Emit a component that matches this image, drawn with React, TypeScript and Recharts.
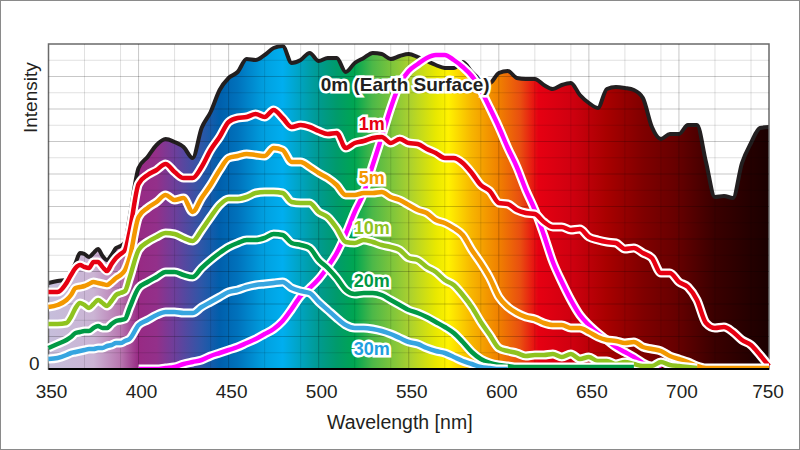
import { Area, CartesianGrid, ComposedChart, Line, ReferenceArea, ReferenceDot, ReferenceLine, XAxis, YAxis } from "recharts";

// sampled every 5 nm, 2.5 nm where the UV end wiggles
const wavelengths = [
  350, 355, 360, 362.5, 365, 367.5, 370, 372.5, 375, 377.5, 380, 382.5, 385, 387.5, 390, 392.5, 395,
  400, 405, 410, 415, 420, 425, 430, 435, 440, 445,
  450, 455, 460, 465, 470, 475, 480, 485, 490, 495, 500, 505, 510, 515, 520, 525, 530, 535, 540, 545,
  550, 555, 560, 565, 570, 575, 580, 585, 590, 595, 600, 605, 610, 615, 620, 625, 630, 635, 640, 645,
  650, 655, 660, 665, 670, 675, 680, 685, 690, 695, 700, 705, 710, 715, 720, 725, 730, 735, 740, 745, 750,
];
const N = null;
const surface = [
  86, 88, 89, 97, 106, 116, 115, 112, 116, 120, 113, 109, 114, 121, 123, 127, 151,
  201, 212, 224, 230, 227, 222, 211, 241, 257, 279,
  291, 297, 310, 309, 314, 321, 323, 306, 309, 316,
  308, 311, 311, 297, 306, 311, 316, 315, 310, 313,
  315, 312, 308, 304, 301, 301, 307, 297, 289, 286,
  296, 298, 291, 290, 290, 284, 280, 284, 286, 274,
  266, 261, 280, 282, 281, 279, 271, 242, 230, 235,
  235, 244, 244, 207, 172, 173, 171, 206, 226, 241, 242,
];
const depth1 = [
  77, 77, 86, 94, 101, 104, 102, 101, 107, 107, 102, 98, 105, 111, 115, 119, 137,
  185, 194, 199, 205, 197, 191, 191, 202, 219, 232,
  247, 251, 252, 255, 252, 259, 251, 242, 244, 242,
  238, 235, 236, 221, 226, 228, 231, 232, 226, 230,
  226, 225, 220, 216, 211, 211, 206, 196, 184, 178,
  166, 165, 159, 156, 155, 147, 142, 142, 139, 140,
  132, 129, 127, 126, 120, 121, 116, 111, 96, 96,
  87, 82, 69, 46, 41, 42, 37, 29, 24, 14, 3,
];
const depth5 = [
  62, 64, 69, 74, 81, 82, 83, 85, 87, 86, 85, 84, 87, 91, 94, 99, 111,
  152, 161, 167, 174, 169, 171, 157, 171, 184, 199,
  211, 213, 215, 214, 213, 221, 219, 207, 207, 202,
  196, 191, 184, 174, 174, 176, 176, 177, 172, 169,
  164, 159, 156, 149, 146, 141, 134, 119, 106, 91,
  72, 62, 56, 52, 50, 46, 44, 44, 41, 41,
  37, 32, 29, 28, 26, 27, 22, 20, 18, 13,
  10, 7, 3, 1, 1, 1, 1, 1, 1, 1, 1,
];
const depth10 = [
  45, 45, 46, 52, 61, 66, 64, 61, 65, 69, 66, 63, 68, 74, 76, 78, 91,
  119, 127, 132, 136, 135, 131, 128, 139, 152, 164,
  170, 170, 172, 176, 177, 177, 176, 167, 166, 166,
  157, 152, 141, 127, 126, 129, 127, 124, 122, 119,
  111, 109, 102, 97, 89, 84, 74, 62, 47, 34,
  21, 18, 16, 13, 14, 14, 15, 12, 15, 10,
  12, 8, 8, 5, 7, 5, 3, 3, 7, 4,
  3, 2, 1, N, N, N, N, N, N, N, N,
];
const depth20 = [
  21, 25, 29, 32, 36, 37, 38, 38, 41, 43, 41, 41, 45, 48, 49, 50, 61,
  81, 87, 92, 97, 97, 94, 92, 101, 109, 116,
  122, 126, 129, 129, 131, 135, 134, 126, 124, 121,
  109, 101, 91, 79, 75, 76, 76, 74, 69, 64,
  59, 56, 52, 47, 42, 36, 27, 17, 10, 6,
  4, 3, 2, 2, 2, 2, 2, 2, 2, 2,
  2, 2, 2, 2, 2, 2, N, N, N, N,
  N, N, N, N, N, N, N, N, N, N, N,
];
const depth30 = [
  10, 11, 14, 16, 17, 18, 19, 20, 20, 21, 21, 23, 24, 26, 26, 28, 30,
  44, 49, 54, 57, 57, 56, 56, 62, 67, 72,
  77, 79, 82, 84, 85, 86, 87, 81, 78, 76,
  67, 59, 51, 44, 41, 41, 40, 38, 35, 31,
  27, 25, 21, 18, 16, 12, 8, 5, 2, 1,
  0, 0, N, N, N, N, N, N, N, N,
  N, N, N, N, N, N, N, N, N, N,
  N, N, N, N, N, N, N, N, N, N, N,
];
const sensitivity = [
  N, N, N, N, N, N, N, N, N, N, N, N, N, N, N, N, N,
  0, 0, 0, 1, 2, 5, 7, 9, 13, 16,
  19, 22, 26, 30, 35, 40, 48, 60, 73, 81,
  90, 102, 116, 135, 157, 176, 204, 232, 261, 285,
  298, 305, 311, 314, 314, 309, 302, 293, 279, 261,
  242, 221, 202, 179, 159, 134, 107, 87, 69, 54,
  44, 36, 29, 22, 17, 12, 6, 2, 0, N,
  N, N, N, N, N, N, N, N, N, N, N,
];

const xTicks = [350, 400, 450, 500, 550, 600, 650, 700, 750];
const minorX = [360, 370, 380, 390, 410, 420, 430, 440, 460, 470, 480, 490, 510, 520, 530, 540, 560, 570, 580, 590, 610, 620, 630, 640, 660, 670, 680, 690, 710, 720, 730, 740];
const majorX = [400, 450, 500, 550, 600, 650, 700];
const minorY = [16.25, 48.75, 81.25, 113.75, 146.25, 178.75, 211.25, 243.75, 276.25, 308.75];
const majorY = [32.5, 65, 97.5, 130, 162.5, 195, 227.5, 260, 292.5];

const spectrum: [number, string][] = [
  [350, "#c6bedb"], [375, "#cbb4d4"], [390, "#b877b0"], [400, "#982a84"], [410, "#93308a"], [420, "#6d3f9b"],
  [435, "#2d57a8"], [445, "#005fac"], [455, "#0072bc"], [470, "#00a0e0"], [480, "#00aeef"], [490, "#00a3c0"],
  [500, "#009a90"], [510, "#009b6b"], [520, "#00a651"], [530, "#4db848"], [550, "#a8d030"], [565, "#e8e800"],
  [572, "#fff200"], [585, "#f7b500"], [600, "#f08000"], [612, "#e94e10"], [622, "#e60012"], [640, "#d00010"],
  [660, "#a80000"], [680, "#800000"], [700, "#640000"], [720, "#3a0000"], [750, "#1a0000"],
];

const depths = [
  { key: "sensitivity", color: "#ff00ff" },
  { key: "depth1", color: "#e60012" },
  { key: "depth5", color: "#f39800" },
  { key: "depth10", color: "#8fc31f" },
  { key: "depth20", color: "#009944" },
  { key: "depth30", color: "#36a5e0" },
];

const labels = [
  { text: "0m (Earth Surface)", x: 548, y: 285, color: "#231f20", size: 19 },
  { text: "1m", x: 529.5, y: 245, color: "#e60012", size: 18 },
  { text: "5m", x: 529.5, y: 191, color: "#f39800", size: 18 },
  { text: "10m", x: 529.5, y: 141, color: "#8fc31f", size: 18 },
  { text: "20m", x: 529.5, y: 88, color: "#009944", size: 18 },
  { text: "30m", x: 529.5, y: 20, color: "#1e9fe0", size: 18 },
];

const data = wavelengths.map((w, i) => ({
  w,
  surface: surface[i],
  depth1: depth1[i],
  depth5: depth5[i],
  depth10: depth10[i],
  depth20: depth20[i],
  depth30: depth30[i],
  sensitivity: sensitivity[i],
}));

const FONT = "'Liberation Sans', Arial, sans-serif";

function WaveTick({ x, y, payload }: any) {
  const dx = payload.value === 750 ? -1 : 3;
  return (
    <text x={x + dx} y={y} dy={21} textAnchor="middle" fontSize={19} fontFamily={FONT} fill="#231f20">
      {payload.value}
    </text>
  );
}

export default function App() {
  return (
    <div style={{ position: "absolute", left: 0, top: 0, width: 800, height: 450, boxSizing: "border-box", border: "1px solid #8a8a8a", background: "#fff" }}>
      <div style={{ position: "absolute", left: -1, top: -1 }}>
        <ComposedChart width={800} height={450} data={data} margin={{ top: 44, right: 31, bottom: 0, left: 0 }}>
          <defs>
            <linearGradient id="spectrum" x1="0" y1="0" x2="1" y2="0">
              {spectrum.map(([w, c]) => (
                <stop key={w} offset={(w - 350) / 400} stopColor={c} />
              ))}
            </linearGradient>
          </defs>
          <XAxis
            dataKey="w"
            type="number"
            domain={[350, 750]}
            ticks={xTicks}
            height={81}
            tick={WaveTick}
            tickLine={false}
            axisLine={false}
            label={{ value: "Wavelength [nm]", position: "insideBottom", offset: 21, dx: -9, fontSize: 19.5, fontFamily: FONT, fill: "#231f20" }}
          />
          <YAxis
            type="number"
            domain={[0, 325]}
            ticks={[0]}
            width={48.5}
            allowDataOverflow
            tickLine={false}
            axisLine={false}
            tickMargin={3}
            tick={{ fontSize: 19, fontFamily: FONT, fill: "#231f20", dy: -6 }}
            label={{ value: "Intensity", angle: -90, position: "insideTopLeft", dx: 19, dy: 84, fontSize: 19, fontFamily: FONT, fill: "#231f20" }}
          />
          <Area dataKey="surface" type="monotone" fill="url(#spectrum)" fillOpacity={1} stroke="#231f20" strokeWidth={4} dot={false} activeDot={false} isAnimationActive={false} />
          <CartesianGrid zIndex={150} horizontalValues={minorY} verticalValues={minorX} stroke="#000" strokeOpacity={0.12} />
          <CartesianGrid zIndex={150} horizontalValues={majorY} verticalValues={majorX} stroke="#000" strokeOpacity={0.22} />
          {depths.flatMap((d) => [
            <Line key={d.key + "-casing"} dataKey={d.key} type="monotone" stroke="#fff" strokeWidth={9} strokeLinejoin="round" dot={false} activeDot={false} isAnimationActive={false} legendType="none" />,
            <Line key={d.key} dataKey={d.key} type="monotone" stroke={d.color} strokeWidth={4.5} strokeLinejoin="round" dot={false} activeDot={false} isAnimationActive={false} />,
          ])}
          <ReferenceArea x1={350} x2={750} y1={0} y2={325} fill="none" stroke="#6a6a6a" strokeWidth={1.5} />
          <ReferenceLine y={0} stroke="#000" strokeWidth={2} />
          {labels.map((l) => (
            <ReferenceDot
              key={l.text}
              x={l.x}
              y={l.y}
              r={0}
              label={{ value: l.text, position: "center", fontSize: l.size, fontWeight: "bold", fontFamily: FONT, fill: l.color, stroke: "#fff", strokeWidth: 5, paintOrder: "stroke" } as any}
            />
          ))}
        </ComposedChart>
      </div>
    </div>
  );
}
